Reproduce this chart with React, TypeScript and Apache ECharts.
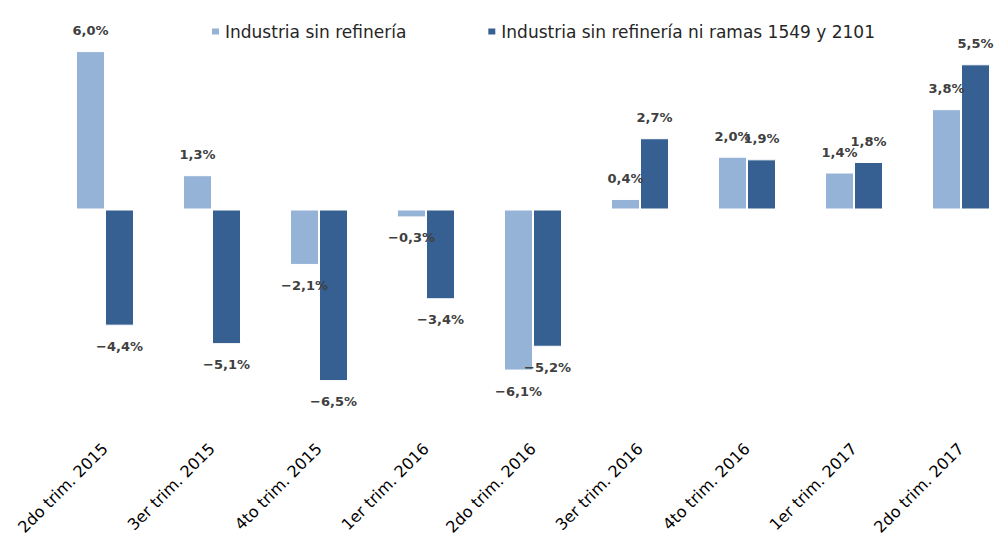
import React, { useEffect, useRef } from "react";
import * as echarts from "echarts";

const categories = [
  "2do trim. 2015",
  "3er trim. 2015",
  "4to trim. 2015",
  "1er trim. 2016",
  "2do trim. 2016",
  "3er trim. 2016",
  "4to trim. 2016",
  "1er trim. 2017",
  "2do trim. 2017",
];
const seriesNames = [
  "Industria sin refinería",
  "Industria sin refinería ni ramas 1549 y 2101",
];
const industriaSinRefineria = [6.0, 1.3, -2.1, -0.3, -6.1, 0.4, 2.0, 1.4, 3.8];
const industriaSinRamas = [-4.4, -5.1, -6.5, -3.4, -5.2, 2.7, 1.9, 1.8, 5.5];
const colors = ["#95B3D7", "#366092"];

const fmt = (v: number) =>
  (v < 0 ? "\u2212" : "") + Math.abs(v).toFixed(1).replace(".", ",") + "%";

const toData = (arr: number[]) =>
  arr.map((v) => ({
    value: v,
    label: { position: v < 0 ? "bottom" : "top" },
  }));

export default function App() {
  const ref = useRef<HTMLDivElement>(null);
  useEffect(() => {
    if (!ref.current) return;
    const chart = echarts.init(ref.current, undefined, { renderer: "svg" });
    const labelStyle = {
      show: true,
      distance: 14,
      fontFamily: "DejaVu Sans",
      fontSize: 13,
      fontWeight: "bold" as const,
      color: "#404040",
      formatter: (p: any) => fmt(p.value),
    };
    chart.setOption({
      animation: false,
      backgroundColor: "#ffffff",
      legend: {
        left: 205,
        top: 18,
        itemWidth: 9,
        itemHeight: 8,
        itemGap: 80,
        icon: "rect",
        textStyle: { fontFamily: "DejaVu Sans", fontSize: 17, color: "#262626" },
        data: seriesNames,
      },
      grid: {
        left: 51.5,
        width: 963,
        top: 11.5,
        height: 422.4,
        outerBoundsMode: "none",
        containLabel: false,
      },
      xAxis: {
        type: "category",
        data: categories,
        axisLine: { show: false },
        axisTick: { show: false },
        axisLabel: {
          rotate: 45,
          margin: 12,
          interval: 0,
          fontFamily: "DejaVu Sans",
          fontSize: 16,
          color: "#000000",
        },
      },
      yAxis: {
        type: "value",
        min: -8.5,
        max: 7.5,
        show: false,
        splitLine: { show: false },
      },
      series: [
        {
          name: seriesNames[0],
          type: "bar",
          data: toData(industriaSinRefineria),
          barWidth: 29,
          barGap: "0%",
          itemStyle: { color: colors[0], borderColor: "#ffffff", borderWidth: 1 },
          label: labelStyle,
        },
        {
          name: seriesNames[1],
          type: "bar",
          data: toData(industriaSinRamas),
          barWidth: 29,
          barGap: "0%",
          itemStyle: { color: colors[1], borderColor: "#ffffff", borderWidth: 1 },
          label: labelStyle,
        },
      ],
    });
    return () => chart.dispose();
  }, []);
  return (
    <div
      ref={ref}
      style={{ position: "fixed", left: 0, top: 0, width: 998, height: 539 }}
    />
  );
}
